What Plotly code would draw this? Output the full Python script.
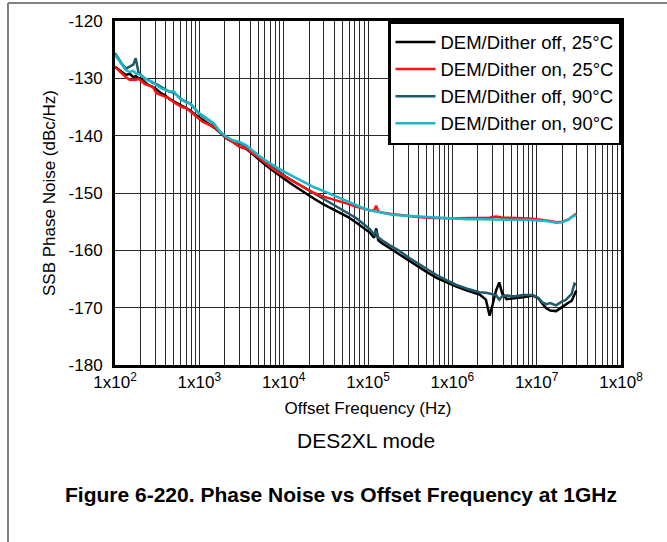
import plotly.graph_objects as go

# ---------------- data ----------------
freq_hz = [100, 110, 120, 135, 150, 165, 176, 190, 200, 225,
           250, 280, 310, 350, 390, 440, 500, 560, 620, 700,
           780, 870, 1000, 1100, 1220, 1350, 1500, 1750, 2100, 2500,
           3000, 3600, 4300, 5200, 6200, 7500, 8900, 1.05e4, 1.29e4, 1.55e4,
           1.86e4, 2.3e4, 2.9e4, 3.6e4, 4.6e4, 5.8e4, 7.3e4, 9e4, 1.05e5, 1.18e5,
           1.25e5, 1.32e5, 1.45e5, 1.8e5, 2.3e5, 3e5, 3.9e5, 5e5, 6.5e5, 8.5e5,
           1.1e6, 1.5e6, 2.1e6, 2.5e6, 2.77e6, 3.0e6, 3.3e6, 3.6e6, 3.9e6, 4.4e6,
           5.5e6, 6.9e6, 9e6, 1.05e7, 1.17e7, 1.3e7, 1.45e7, 1.7e7, 2.0e7, 2.2e7,
           2.4e7, 2.6e7, 2.8e7, 2.95e7]

off_25c = [-128.0, -128.4, -128.9, -129.4, -129.2, -129.8, -129.6, -130.0, -130.0, -130.6,
           -131.2, -131.5, -131.9, -132.6, -132.9, -133.6, -134.0, -134.5, -134.8, -135.2,
           -135.6, -136.2, -136.8, -137.2, -137.6, -138.0, -138.6, -139.4, -140.5, -141.1,
           -141.9, -142.3, -143.3, -144.3, -145.2, -146.1, -147.0, -147.7, -148.6, -149.4,
           -150.2, -151.0, -151.9, -152.6, -153.4, -154.2, -155.2, -156.2, -156.9, -157.8,
           -156.2, -158.2, -158.7, -159.6, -160.6, -161.8, -162.9, -163.8, -164.8, -165.6,
           -166.3, -167.0, -167.7, -168.6, -171.4, -169.5, -167.0, -165.6, -167.5, -168.5,
           -168.4, -168.2, -167.9, -168.4, -169.3, -170.1, -170.5, -170.6, -169.9, -169.4,
           -169.1, -168.8, -167.8, -167.0]

on_25c = [-128.0, -128.6, -129.0, -129.8, -130.3, -130.2, -130.3, -130.1, -130.3, -131.0,
          -131.2, -131.5, -132.6, -132.9, -133.2, -133.5, -134.2, -134.7, -135.0, -135.2,
          -135.8, -136.4, -137.2, -137.6, -137.9, -138.2, -138.5, -139.3, -140.5, -141.1,
          -141.9, -142.2, -143.1, -144.0, -144.9, -145.8, -146.6, -147.2, -148.0, -148.7,
          -149.3, -150.0, -150.6, -151.0, -151.4, -151.9, -152.4, -152.8, -153.0, -153.1,
          -152.2, -153.2, -153.4, -153.6, -153.8, -154.0, -154.2, -154.3, -154.4, -154.4,
          -154.4, -154.4, -154.4, -154.4, -154.3, -154.2, -154.1, -154.2, -154.3, -154.3,
          -154.3, -154.4, -154.5, -154.6, -154.7, -154.8, -154.9, -155.1, -155.0, -154.8,
          -154.6, -154.2, -153.8, -153.6]

off_90c = [-125.6, -126.6, -127.4, -128.3, -128.0, -127.6, -126.5, -129.0, -129.3, -130.0,
           -130.3, -130.8, -131.0, -131.5, -131.8, -132.3, -132.5, -133.2, -133.7, -134.1,
           -134.4, -135.2, -136.2, -136.6, -137.0, -137.5, -138.1, -139.3, -140.3, -140.9,
           -141.3, -141.9, -143.0, -143.9, -144.7, -145.6, -146.4, -147.1, -147.9, -148.6,
           -149.3, -150.0, -150.9, -151.7, -152.6, -153.5, -154.4, -155.5, -156.3, -157.2,
           -156.6, -157.7, -158.2, -159.1, -160.0, -161.2, -162.3, -163.3, -164.3, -165.2,
           -166.0, -166.7, -167.3, -167.4, -167.5, -167.6, -167.8, -168.6, -168.0, -167.9,
           -168.0, -167.8, -167.8, -168.3, -169.1, -169.4, -169.2, -169.6, -168.9, -168.7,
           -168.2, -167.6, -165.8, -166.0]

on_90c = [-125.9, -126.8, -127.6, -128.6, -128.9, -128.7, -129.1, -129.3, -129.4, -130.0,
          -130.4, -130.6, -131.2, -131.7, -132.0, -132.3, -132.3, -133.2, -133.8, -134.2,
          -134.4, -135.1, -136.1, -136.5, -137.0, -137.4, -137.9, -139.3, -140.2, -140.8,
          -141.1, -141.7, -142.7, -143.6, -144.4, -145.2, -145.8, -146.4, -147.1, -147.8,
          -148.4, -149.0, -149.6, -150.2, -150.9, -151.5, -152.2, -152.7, -153.0, -153.2,
          -153.2, -153.3, -153.4, -153.7, -153.9, -154.0, -154.2, -154.3, -154.4, -154.5,
          -154.5, -154.6, -154.6, -154.6, -154.6, -154.6, -154.6, -154.6, -154.6, -154.6,
          -154.6, -154.7, -154.7, -154.8, -154.8, -154.9, -155.0, -155.2, -155.1, -154.9,
          -154.6, -154.2, -154.0, -153.8]

series_names = ["DEM/Dither off, 25°C", "DEM/Dither on, 25°C",
                "DEM/Dither off, 90°C", "DEM/Dither on, 90°C"]
series_colors = ["#000000", "#ff1010", "#1f5a6b", "#1ab8cc"]

x_decades = [2, 3, 4, 5, 6, 7, 8]
y_ticks = [-120, -130, -140, -150, -160, -170, -180]
y_ticklabels = ["-120", "-130", "-140", "-150", "-160", "-170", "-180"]

# ---------------- figure ----------------
W, H = 667, 542
ML, MR, MT, MB = 115, 46, 21, 177
FONT = "Liberation Sans, Arial, Helvetica, sans-serif"

fig = go.Figure()
series = [off_25c, on_25c, off_90c, on_90c]
draw_order = [0, 2, 1, 3]
for i in draw_order:
    fig.add_trace(go.Scatter(
        x=freq_hz, y=series[i], mode="lines", name=series_names[i],
        line=dict(color=series_colors[i], width=2.5),
        legendrank=i + 1,
    ))

tickvals, ticktext = [], []
for d in x_decades:
    for m in range(1, 10):
        if d == x_decades[-1] and m > 1:
            break
        tickvals.append(m * 10 ** d)
        ticktext.append(f"1x10<sup>{d}</sup>" if m == 1 else "")

fig.update_layout(
    width=W, height=H,
    margin=dict(l=ML, r=MR, t=MT, b=MB, autoexpand=False),
    paper_bgcolor="white", plot_bgcolor="white",
    font=dict(family=FONT, size=17, color="black"),
    showlegend=True,
    legend=dict(x=1, y=1, xanchor="right", yanchor="top",
                bgcolor="white", bordercolor="black", borderwidth=2.5,
                font=dict(size=18.5), itemwidth=40, tracegroupgap=0),
    xaxis=dict(type="log", range=[2, 8], tickmode="array",
               tickvals=tickvals, ticktext=ticktext,
               showgrid=True, gridcolor="#2a2a2a", gridwidth=1,
               showline=True, linecolor="black", linewidth=3, mirror=True,
               ticks="", tickfont=dict(size=17), zeroline=False,
               title=dict(text="Offset Frequency (Hz)", font=dict(size=17), standoff=11)),
    yaxis=dict(range=[-180, -120], tickmode="array", tickvals=y_ticks,
               ticktext=y_ticklabels,
               showgrid=True, gridcolor="#2a2a2a", gridwidth=1,
               showline=True, linecolor="black", linewidth=3, mirror=True,
               ticks="", tickfont=dict(size=17), zeroline=False,
               ticklabelstandoff=6,
               title=dict(text="SSB Phase Noise (dBc/Hz)", font=dict(size=17), standoff=9)),
)

PW, PH = W - ML - MR, H - MT - MB


def px(x):
    return (x - ML) / PW


def py(y):
    return (H - MB - y) / PH


# page frame (gray)
fig.add_shape(type="line", xref="paper", yref="paper",
              x0=px(8), x1=px(667), y0=py(3), y1=py(3),
              line=dict(color="#808080", width=2))
fig.add_shape(type="line", xref="paper", yref="paper",
              x0=px(8), x1=px(8), y0=py(3), y1=py(542),
              line=dict(color="#808080", width=2))

fig.add_annotation(text="DES2XL mode", xref="paper", yref="paper",
                   x=px(366), y=py(440), showarrow=False,
                   font=dict(size=21, family=FONT), xanchor="center", yanchor="middle")
fig.add_annotation(text="<b>Figure 6-220. Phase Noise vs Offset Frequency at 1GHz</b>",
                   xref="paper", yref="paper", x=px(341), y=py(494), showarrow=False,
                   font=dict(size=21, family=FONT), xanchor="center", yanchor="middle")

fig.write_html("out.html", config={"displayModeBar": False},
               post_script="document.body.style.margin='0px';")
